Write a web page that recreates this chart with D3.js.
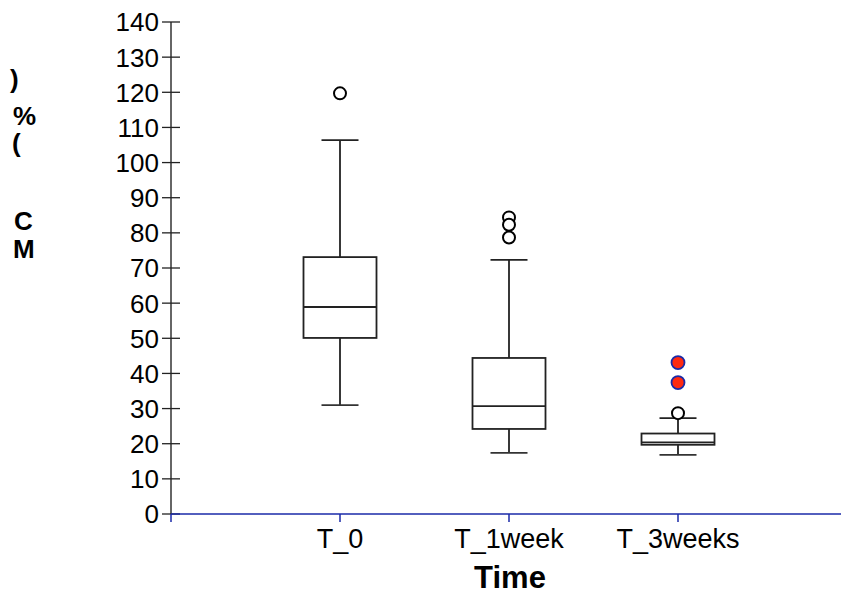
<!DOCTYPE html>
<html>
<head>
<meta charset="utf-8">
<title>Box plot</title>
<script src="https://cdn.jsdelivr.net/npm/d3@7"></script>
<style>
  body { margin: 0; background: #fff; }
  text { font-family: "Liberation Sans", Arial, sans-serif; }
</style>
</head>
<body>
<div id="chart"></div>
<script>
// data
var categories = ["T_0", "T_1week", "T_3weeks"];
var whiskerLow = [31.0, 17.4, 16.8];
var q1 = [50.1, 24.2, 19.7];
var median = [58.9, 30.7, 20.4];
var q3 = [73.1, 44.4, 22.9];
var whiskerHigh = [106.4, 72.3, 27.3];
// hollow outliers and red (extreme) points, per category
var outliers = [[119.7], [84.4, 82.3, 78.7], [28.7]];
var extremes = [[], [], [43.1, 37.4]];
var yTicks = d3.range(0, 141, 10);

var width = 841, height = 594;

var svg = d3.select("#chart").append("svg")
  .attr("width", width)
  .attr("height", height);

var y = d3.scaleLinear().domain([0, 140]).range([514, 22]);
// category positions 1..3 on a 0..4 axis
var x = d3.scaleLinear().domain([0, 4]).range([171, 847]);

var boxW = 73, capW = 37;

// y axis
var yAxis = svg.append("g");
yAxis.append("line")
  .attr("x1", 171).attr("x2", 171)
  .attr("y1", y(140)).attr("y2", y(0))
  .attr("stroke", "#333").attr("stroke-width", 1.5);
yAxis.selectAll(".tick").data(yTicks).enter().append("line")
  .attr("x1", 162).attr("x2", 180)
  .attr("y1", d => y(d)).attr("y2", d => y(d))
  .attr("stroke", "#222").attr("stroke-width", 1.3);
yAxis.selectAll(".lab").data(yTicks).enter().append("text")
  .attr("x", 159).attr("y", d => y(d))
  .attr("dy", "0.36em")
  .attr("text-anchor", "end")
  .style("font-size", "26px")
  .text(d => d);

// x axis (blue)
var xAxis = svg.append("g");
xAxis.append("line")
  .attr("x1", 171).attr("x2", width)
  .attr("y1", y(0)).attr("y2", y(0))
  .attr("stroke", "#1a2aa8").attr("stroke-width", 1.5);
xAxis.selectAll(".tick").data([0, 1, 2, 3]).enter().append("line")
  .attr("x1", d => x(d)).attr("x2", d => x(d))
  .attr("y1", y(0)).attr("y2", y(0) + 8)
  .attr("stroke", "#1a2aa8").attr("stroke-width", 1.5);
xAxis.selectAll(".lab").data(categories).enter().append("text")
  .attr("x", (d, i) => x(i + 1)).attr("y", 548)
  .attr("text-anchor", "middle")
  .style("font-size", "27px")
  .text(d => d);

svg.append("text")
  .attr("x", 510).attr("y", 588)
  .attr("text-anchor", "middle")
  .style("font-size", "31px").style("font-weight", "bold")
  .text("Time");

// clipped y axis title (only right part visible)
var yTitle = [{ c: ")", x: 10, y: 88 }, { c: "%", x: 13, y: 125 }, { c: "(", x: 12, y: 152 },
  { c: "C", x: 14, y: 230 }, { c: "M", x: 13, y: 258 }];
svg.selectAll(".ytitle").data(yTitle).enter().append("text")
  .attr("x", d => d.x).attr("y", d => d.y)
  .style("font-size", "26px").style("font-weight", "bold")
  .text(d => d.c);

// boxes
var boxes = svg.selectAll(".box").data(categories).enter().append("g")
  .attr("transform", (d, i) => "translate(" + x(i + 1) + ",0)");

boxes.append("line")
  .attr("x1", 0).attr("x2", 0)
  .attr("y1", (d, i) => y(q3[i])).attr("y2", (d, i) => y(whiskerHigh[i]))
  .attr("stroke", "#222").attr("stroke-width", 1.8);
boxes.append("line")
  .attr("x1", 0).attr("x2", 0)
  .attr("y1", (d, i) => y(q1[i])).attr("y2", (d, i) => y(whiskerLow[i]))
  .attr("stroke", "#222").attr("stroke-width", 1.8);
boxes.append("line")
  .attr("x1", -capW / 2).attr("x2", capW / 2)
  .attr("y1", (d, i) => y(whiskerHigh[i])).attr("y2", (d, i) => y(whiskerHigh[i]))
  .attr("stroke", "#222").attr("stroke-width", 1.8);
boxes.append("line")
  .attr("x1", -capW / 2).attr("x2", capW / 2)
  .attr("y1", (d, i) => y(whiskerLow[i])).attr("y2", (d, i) => y(whiskerLow[i]))
  .attr("stroke", "#333").attr("stroke-width", 1.8);
boxes.append("rect")
  .attr("x", -boxW / 2).attr("width", boxW)
  .attr("y", (d, i) => y(q3[i]))
  .attr("height", (d, i) => y(q1[i]) - y(q3[i]))
  .attr("fill", "#fff").attr("stroke", "#222").attr("stroke-width", 1.8);
boxes.append("line")
  .attr("x1", -boxW / 2).attr("x2", boxW / 2)
  .attr("y1", (d, i) => y(median[i])).attr("y2", (d, i) => y(median[i]))
  .attr("stroke", "#222").attr("stroke-width", 1.8);

boxes.each(function (d, i) {
  var g = d3.select(this);
  g.selectAll(".out").data(outliers[i]).enter().append("circle")
    .attr("cx", 0).attr("cy", v => y(v)).attr("r", 6)
    .attr("fill", "#fff").attr("stroke", "#000").attr("stroke-width", 2);
  g.selectAll(".ext").data(extremes[i]).enter().append("circle")
    .attr("cx", 0).attr("cy", v => y(v)).attr("r", 6.5)
    .attr("fill", "#ff2a10").attr("stroke", "#1a2aa8").attr("stroke-width", 1.8);
});
</script>
</body>
</html>
